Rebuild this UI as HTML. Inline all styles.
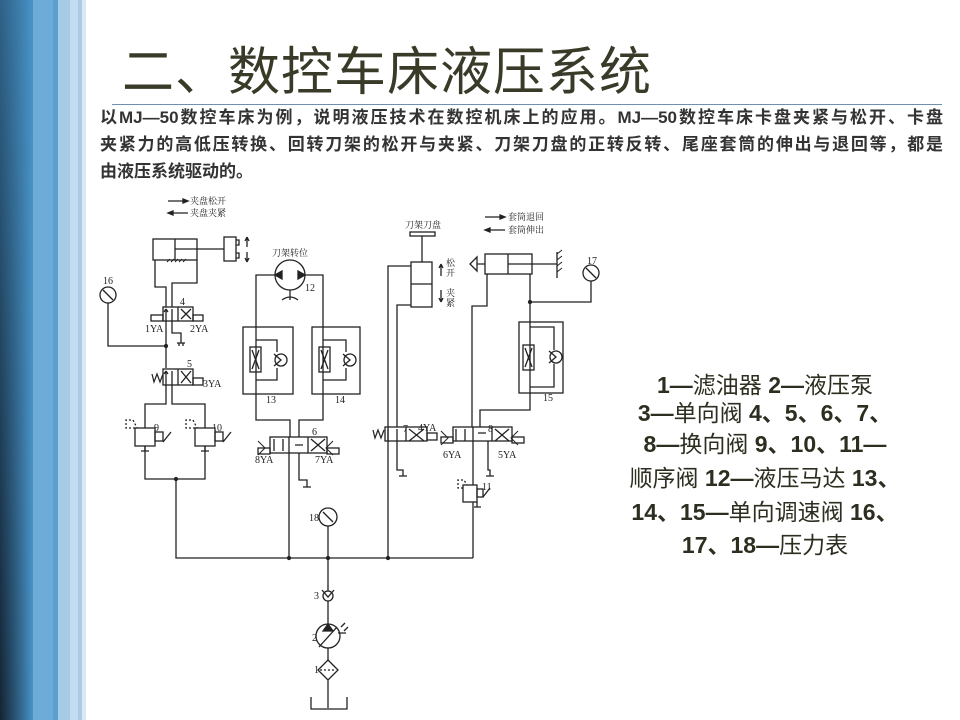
<!DOCTYPE html>
<html><head><meta charset="utf-8">
<style>
body{margin:0;width:960px;height:720px;overflow:hidden;background:#fff;position:relative;font-family:"Liberation Sans","Noto Sans CJK SC",sans-serif;}
.strip{position:absolute;top:0;height:720px;}
#s0{left:0;width:33px;background:linear-gradient(to right,#3d82b4,#4994c8);}
#s0b{left:0;width:33px;background:linear-gradient(to right,rgba(18,32,45,.95),rgba(18,32,45,0));-webkit-mask-image:linear-gradient(to bottom,rgba(0,0,0,.35),#000);mask-image:linear-gradient(to bottom,rgba(0,0,0,.35),#000);}
#s1{left:33px;width:20px;background:#6dabd8}
#s2{left:53px;width:5px;background:#5a9fd0}
#s3{left:58px;width:12px;background:#a6cbe6}
#s4{left:70px;width:8px;background:#c4dcef}
#s5{left:78px;width:4px;background:#a9cbe7}
#s6{left:82px;width:4px;background:#dbe9f4}
.title{position:absolute;left:122px;top:30px;font-size:52px;color:#3a3a28;letter-spacing:1px;white-space:nowrap}
.hl{position:absolute;left:112px;top:104px;width:830px;height:1px;background:#6f91b1}
.p{position:absolute;left:100px;width:843px;font-size:17px;font-weight:bold;color:#333;text-align:justify;text-align-last:justify;white-space:nowrap;line-height:20px}
.r{position:absolute;left:600px;width:330px;text-align:center;font-size:23px;color:#2e2e20;white-space:nowrap;line-height:28px}
.r b{font-weight:bold}
</style></head><body>
<div class="strip" id="s0"></div><div class="strip" id="s0b"></div>
<div class="strip" id="s1"></div><div class="strip" id="s2"></div><div class="strip" id="s3"></div><div class="strip" id="s4"></div><div class="strip" id="s5"></div><div class="strip" id="s6"></div>
<div class="title">二、数控车床液压系统</div>
<div class="hl"></div>
<div class="p" style="top:108px">以MJ—50数控车床为例，说明液压技术在数控机床上的应用。MJ—50数控车床卡盘夹紧与松开、卡盘</div>
<div class="p" style="top:135px">夹紧力的高低压转换、回转刀架的松开与夹紧、刀架刀盘的正转反转、尾座套筒的伸出与退回等，都是</div>
<div class="p" style="top:162px;text-align-last:left">由液压系统驱动的。</div>

<div class="r" style="top:371px"><b>1—</b>滤油器 <b>2—</b>液压泵</div>
<div class="r" style="top:399px"><b>3—</b>单向阀 <b>4、5、6、7、</b></div>
<div class="r" style="top:430px"><b>8—</b>换向阀 <b>9、10、11—</b></div>
<div class="r" style="top:464px">顺序阀 <b>12—</b>液压马达 <b>13、</b></div>
<div class="r" style="top:498px"><b>14、15—</b>单向调速阀 <b>16、</b></div>
<div class="r" style="top:531px"><b>17、18—</b>压力表</div>

<svg style="position:absolute;left:0;top:0" width="960" height="720" viewBox="0 0 960 720" fill="none" stroke="#222" stroke-width="1.3" font-family="Liberation Serif,Noto Serif CJK SC,serif">
<g font-size="9" fill="#222" stroke="none">
<text x="190" y="204">夹盘松开</text><text x="190" y="216">夹盘夹紧</text>
<text x="272" y="256">刀架转位</text><text x="405" y="228">刀架刀盘</text>
<text x="508" y="220">套筒退回</text><text x="508" y="233">套筒伸出</text>
<text x="446" y="266">松</text><text x="446" y="276">开</text><text x="446" y="296">夹</text><text x="446" y="306">紧</text>
</g>
<g font-size="10" fill="#222" stroke="none">
<text x="103" y="284">16</text><text x="180" y="305">4</text><text x="145" y="332">1YA</text><text x="190" y="332">2YA</text>
<text x="187" y="367">5</text><text x="203" y="387">3YA</text><text x="154" y="431">9</text><text x="212" y="431">10</text>
<text x="305" y="291">12</text><text x="266" y="403">13</text><text x="335" y="403">14</text>
<text x="312" y="435">6</text><text x="255" y="463">8YA</text><text x="315" y="463">7YA</text>
<text x="403" y="432">7</text><text x="418" y="431">4YA</text><text x="488" y="432">8</text><text x="443" y="458">6YA</text><text x="498" y="458">5YA</text>
<text x="543" y="401">15</text><text x="587" y="264">17</text><text x="482" y="490">11</text>
<text x="309" y="521">18</text><text x="314" y="599">3</text><text x="312" y="641">2</text><text x="314" y="673">1</text>
</g>
<path d="M168 201H188M188 201l-5-2v4z M188 213H168M168 213l5-2v4z M485 217H505M505 217l-5-2v4z M505 230H485M485 230l5-2v4z" fill="#222"/>
<rect x="153" y="239" width="44" height="21"/><line x1="175" y1="239" x2="175" y2="260"/><line x1="175" y1="249" x2="224" y2="249"/>
<rect x="224" y="237" width="12" height="24"/><path d="M236 240h3v5h-3M236 253h3v5h-3"/>
<path d="M247 237v10M247 237l-2 4M247 237l2 4M247 262v-10M247 262l-2-4M247 262l2-4"/>
<path d="M167 262l3-3M171 262l3-3M175 262l3-3M179 262l3-3M183 262l3-3" stroke-width="1"/>
<path d="M155 260V287H166V307M197 260V283H172V307"/>
<rect x="163" y="307" width="30" height="14"/><line x1="178" y1="307" x2="178" y2="321"/>
<path d="M166 321V309M166 309l-2 3M166 309l2 3M172 309V321M181 309l10 10M191 309l-10 10"/>
<rect x="151" y="315" width="12" height="6"/><rect x="193" y="315" width="10" height="6"/>
<path d="M172 321V333H181V343M177 343h8M179 343v3M183 343v3"/>
<circle cx="108" cy="295" r="8"/><path d="M103 290l10 10"/><path d="M108 303V346H166"/>
<path d="M166 321V368"/>
<circle cx="166" cy="346" r="1.5" fill="#222"/>
<rect x="163" y="369" width="30" height="16"/><line x1="178" y1="369" x2="178" y2="385"/>
<path d="M166 385V371M166 371l-2 3M166 371l2 3M172 371V385M181 371l10 12M191 371l-10 12"/>
<path d="M152 374l2 8 3-8 3 8 3-8" stroke-width="1.2"/><rect x="193" y="378" width="10" height="7"/>
<path d="M166 385V404H145V479H205V404H172V385"/>
<circle cx="176" cy="479" r="1.5" fill="#222"/>
<rect x="135" y="428" width="20" height="18" fill="#fff"/><path d="M135 428h-9v-8h7l4 8" stroke-dasharray="2 2"/><rect x="155" y="432" width="8" height="9"/><path d="M163 442l8-10M145 446v5h-4h8"/>
<rect x="195" y="428" width="20" height="18" fill="#fff"/><path d="M195 428h-9v-8h7l4 8" stroke-dasharray="2 2"/><rect x="215" y="432" width="8" height="9"/><path d="M223 442l8-10M205 446v5h-4h8"/>
<path d="M176 479V558H473"/>
<circle cx="290" cy="275" r="15"/><path d="M275 275l7-4v8zM305 275l-7-4v8z" fill="#222"/><path d="M290 290v10M282 300q8-6 16 0"/>
<path d="M275 275H256V420H290V437M305 275H323V420H299V437"/>
<rect x="243" y="327" width="50" height="67"/><rect x="312" y="327" width="48" height="67"/>
<rect x="250" y="347" width="11" height="25"/><path d="M252 350l7 19M259 350l-7 19"/><path d="M256 340H277V352M256 380H277V368"/><circle cx="281" cy="360" r="6"/><path d="M274 354l7 6-7 6"/>
<rect x="319" y="347" width="11" height="25"/><path d="M321 350l7 19M328 350l-7 19"/><path d="M323 340H346V352M323 380H346V368"/><circle cx="350" cy="360" r="6"/><path d="M343 354l7 6-7 6"/>
<rect x="270" y="437" width="57" height="16"/><line x1="289" y1="437" x2="289" y2="453"/><line x1="308" y1="437" x2="308" y2="453"/>
<path d="M274 439v12M283 451v-12M311 439l14 12M325 439l-14 12M295 445h8"/>
<path d="M258 441l7 7-7 7M333 441l-7 7 7 7" stroke-width="1"/><rect x="258" y="448" width="12" height="6"/><rect x="327" y="448" width="12" height="6"/>
<path d="M289 453V558M299 453V480H307V487M303 487h8"/>
<circle cx="289" cy="558" r="1.5" fill="#222"/>
<rect x="410" y="232" width="25" height="4"/><path d="M422 236V262"/>
<rect x="411" y="262" width="21" height="45"/><line x1="411" y1="284" x2="432" y2="284"/>
<path d="M441 276v-12M441 264l-2 4M441 264l2 4M441 290v12M441 302l-2-4M441 302l2-4"/>
<path d="M411 266H388V558M411 305H397V427"/>
<rect x="385" y="427" width="42" height="14"/><line x1="406" y1="427" x2="406" y2="441"/>
<path d="M388 441V429M397 429V441M409 429l15 12M424 429l-15 12"/>
<path d="M373 430l2 8 3-8 3 8 3-8" stroke-width="1.2"/><rect x="427" y="433" width="10" height="7"/>
<path d="M397 441V470H403V476M399 476h8"/>
<circle cx="388" cy="558" r="1.5" fill="#222"/>
<rect x="485" y="254" width="47" height="20"/><line x1="508" y1="254" x2="508" y2="274"/><line x1="508" y1="264" x2="532" y2="264"/><path d="M532 264H557M557 252V278"/>
<path d="M557 254l5-4M557 260l5-4M557 266l5-4M557 272l5-4" stroke-width="1"/>
<path d="M485 264h-8M477 257v14l-7-7z"/>
<circle cx="591" cy="273" r="8"/><path d="M586 268l10 10"/><path d="M591 281V302H530"/>
<path d="M487 274V306H472V427M530 274V322"/><circle cx="530" cy="302" r="1.5" fill="#222"/>
<rect x="519" y="322" width="44" height="71"/><rect x="523" y="345" width="11" height="25"/><path d="M525 348l7 19M532 348l-7 19"/>
<path d="M530 322V393M530 327H554V350M530 387H554V364"/><circle cx="556" cy="357" r="6"/><path d="M549 351l7 6-7 6"/>
<path d="M530 393V410H480V427"/>
<rect x="453" y="427" width="59" height="14"/><line x1="473" y1="427" x2="473" y2="441"/><line x1="492" y1="427" x2="492" y2="441"/>
<path d="M456 429v12M465 441v-12M495 429l14 12M509 429l-14 12M478 433h8"/>
<path d="M441 431l7 7-7 7M518 431l-7 7 7 7" stroke-width="1"/><rect x="441" y="437" width="12" height="6"/><rect x="512" y="437" width="12" height="6"/>
<path d="M488 441V470H490V476M486 476h8M473 441V558"/>
<rect x="463" y="485" width="14" height="17" fill="#fff"/><path d="M463 488h-5v-8h6l3 5" stroke-dasharray="2 2"/><rect x="477" y="489" width="6" height="8"/><path d="M483 497l7-9M477 502v5h-3h7"/>
<circle cx="328" cy="517" r="9"/><path d="M323 512l10 10"/><path d="M328 526V708"/><circle cx="328" cy="558" r="1.5" fill="#222"/>
<circle cx="328" cy="596" r="5" fill="#fff"/><path d="M322 590l6 7 6-7"/>
<circle cx="328" cy="636" r="12" fill="#fff"/><path d="M328 624l-5 7h10z" fill="#222"/><path d="M319 647l18-20M338 633h8M341 627l4-4M344 631l4-4"/>
<path d="M328 660l10 10-10 10-10-10z" fill="#fff"/><path d="M320 670h16" stroke-dasharray="2 2"/>
<path d="M311 697V709H347V697"/>
</svg>
</body></html>
